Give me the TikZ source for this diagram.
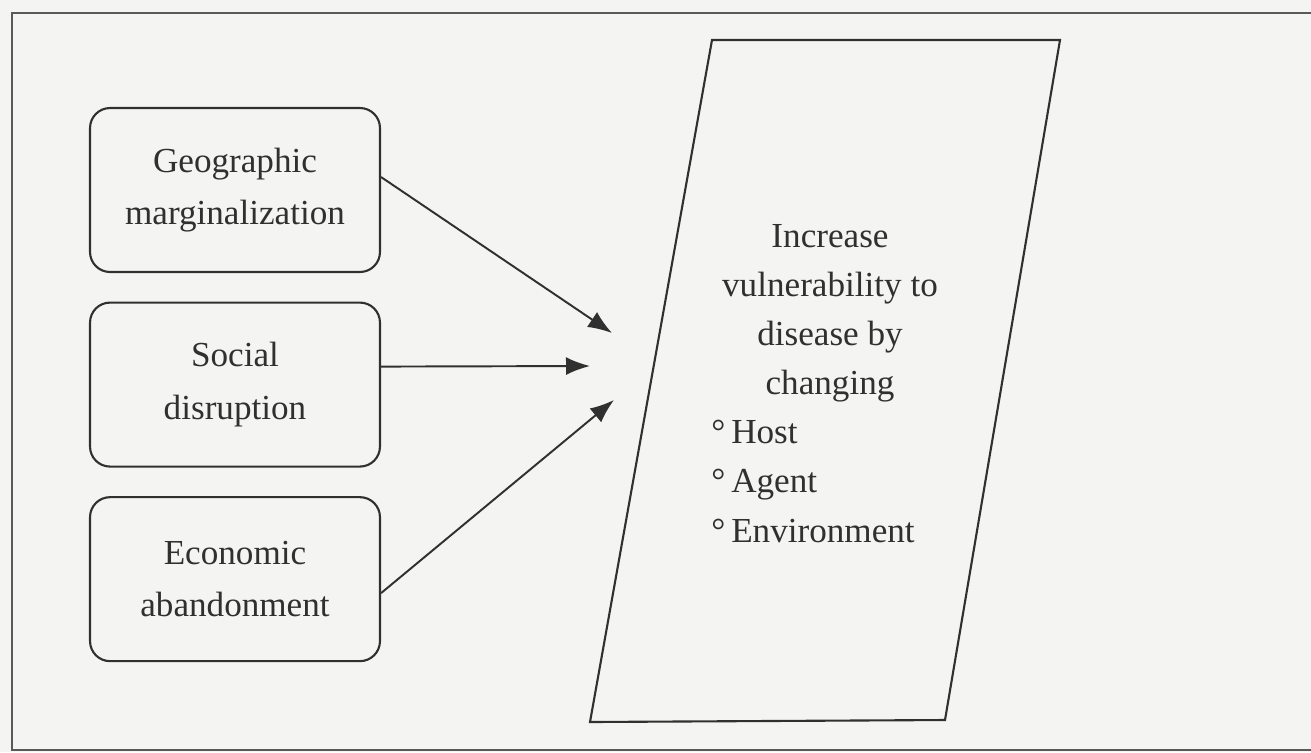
\documentclass[tikz,border=0pt]{standalone}
\usepackage{fontspec}
\setmainfont{Liberation Serif}
\usepackage{xcolor}
\usetikzlibrary{arrows.meta,positioning}
\definecolor{paper}{RGB}{244,244,242}
\definecolor{ink}{RGB}{48,48,48}

\tikzset{
  cause/.style={draw=ink,line width=1.2pt,rounded corners=0.4cm,
    minimum width=5.8cm,minimum height=3.28cm,align=center,text=ink,
    font=\fontsize{20}{30}\selectfont},
  arr/.style={draw=ink,line width=1.1pt,-{Latex[length=0.48cm,width=0.36cm]}},
  effect/.style={text=ink,inner sep=0pt,font=\fontsize{20}{28}\selectfont}
}

\begin{document}
\begin{tikzpicture}[x=0.02cm,y=-0.02cm]
      \fill[paper] (0,0) rectangle (1311,752);
      \useasboundingbox (0,0) rectangle (1311,752);
      \draw[draw=ink!80,line width=1.5pt] (12,13) rectangle (1330,750);

      % causes
      \node[cause] (geo) at (235,190) {Geographic\\marginalization};
      \node[cause,below=0.57cm of geo] (soc) {Social\\disruption};
      \node[cause,below=0.57cm of soc] (eco) {Economic\\abandonment};

      % parallelogram
      \coordinate (ptl) at (712,40);
      \coordinate (ptr) at (1060,40);
      \coordinate (pbr) at (945,720);
      \coordinate (pbl) at (590,722);
      \draw[ink,line width=1.2pt] (ptl) -- (ptr) -- (pbr) -- (pbl) -- cycle;

      \node[effect,align=center,anchor=north] (vul) at (830,224)
        {Increase\\vulnerability to\\disease by\\changing};
      \node[effect,align=left,anchor=north west] (lst) at (711,420)
        {°\,Host\\°\,Agent\\°\,Environment};

      % arrows
      \coordinate (t1) at (612,333);
      \coordinate (t2) at (590,366);
      \coordinate (t3) at (614,400);
      \draw[arr] ([yshift=0.26cm]geo.east) -- (t1);
      \draw[arr] ([yshift=0.36cm]soc.east) -- (t2);
      \draw[arr] ([yshift=-0.28cm]eco.east) -- (t3);
    \end{tikzpicture}
\end{document}
